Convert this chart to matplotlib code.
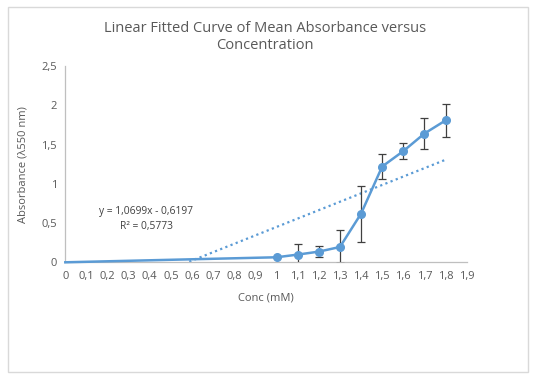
import matplotlib
matplotlib.use("Agg")
import matplotlib.pyplot as plt
from matplotlib.patches import Rectangle
from matplotlib.ticker import FuncFormatter, MultipleLocator
import numpy as np

conc = [0, 1.0, 1.1, 1.2, 1.3, 1.4, 1.5, 1.6, 1.7, 1.8]
absorb = [0, 0.064, 0.098, 0.136, 0.195, 0.62, 1.22, 1.416, 1.64, 1.807]
err = [0, 0, 0.14, 0.068, 0.21, 0.357, 0.16, 0.098, 0.20, 0.21]
slope, intercept = 1.0699, -0.6197
eq_text = "y = 1,0699x - 0,6197\nR² = 0,5773"

plt.rcParams['font.family'] = ['Open Sans', 'DejaVu Sans']
gray = '#595959'
blue = '#5B9BD5'

fig = plt.figure(figsize=(5.35, 3.79), dpi=100)
fig.patches.append(Rectangle((8/535, 1-372/379), 520/535, 365/379, transform=fig.transFigure,
                             fill=False, edgecolor='#D9D9D9', linewidth=1))
ax = fig.add_axes([65.3/535, 1-262.3/379, 401.4/535, 196.3/379])
ax.set_xlim(0, 1.9)
ax.set_ylim(0, 2.5)

# trendline
xt = np.array([0, 1.8])
ax.plot(xt, slope*xt + intercept, linestyle=(0, (1, 1.5)), color=blue, linewidth=1.6, zorder=2)

ax.errorbar(conc[1:], absorb[1:], yerr=err[1:], fmt='none', ecolor='#404040',
            elinewidth=0.9, capsize=3, capthick=0.9, zorder=3, clip_on=True)
ax.plot(conc, absorb, color=blue, linewidth=1.8, marker='o', markersize=5.5,
        markevery=list(range(1, len(conc))), zorder=4, clip_on=False)

ax.xaxis.set_major_locator(MultipleLocator(0.1))
ax.yaxis.set_major_locator(MultipleLocator(0.5))
def fmt(v, p):
    s = ('%.1f' % v).rstrip('0').rstrip('.')
    return s.replace('.', ',')
ax.xaxis.set_major_formatter(FuncFormatter(fmt))
ax.yaxis.set_major_formatter(FuncFormatter(fmt))
ax.tick_params(length=0, labelsize=8, labelcolor=gray, pad=6)
for s in ['top', 'right']:
    ax.spines[s].set_visible(False)
for s in ['left', 'bottom']:
    ax.spines[s].set_color('#BFBFBF')
    ax.spines[s].set_linewidth(0.9)

ax.set_xlabel("Conc (mM)", fontsize=8, color=gray, labelpad=8)
ax.set_ylabel("Absorbance (λ550 nm)", fontsize=8, color=gray, labelpad=9)

fig.text(265/535, 1-37/379, "Linear Fitted Curve of Mean Absorbance versus\nConcentration",
         ha='center', va='center', fontsize=10.5, color=gray, linespacing=1.1)
fig.text(146/535, 1-219/379, eq_text, ha='center', va='center', fontsize=7.4, color='#404040',
         linespacing=1.5)

fig.savefig("out.png", dpi=100)
